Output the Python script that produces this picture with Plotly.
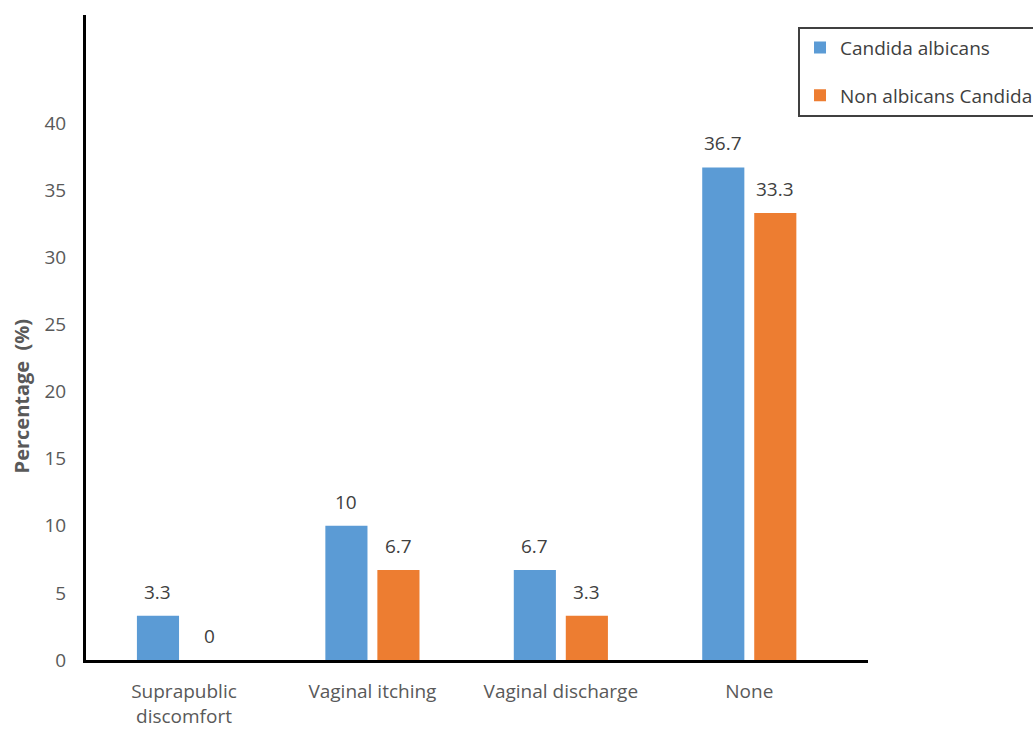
import plotly.graph_objects as go

# Symptom categories and percentage of isolates per species
categories = ["Suprapublic<br>discomfort", "Vaginal itching", "Vaginal discharge", "None"]
albicans = [3.3, 10, 6.7, 36.7]
non_albicans = [0, 6.7, 3.3, 33.3]
series_names = ["Candida albicans", "Non albicans Candida"]
y_ticks = [0, 5, 10, 15, 20, 25, 30, 35, 40]
y_title = "Percentage  (%)"

BLUE = "#5B9BD5"
ORANGE = "#ED7D31"
FONT = "Open Sans"
GREY = "#595959"
SIZE = 19

fig = go.Figure()
fig.add_trace(go.Bar(x=categories, y=albicans, name=series_names[0],
                     marker=dict(color=BLUE, line=dict(width=0)),
                     legendgroup="a"))
fig.add_trace(go.Bar(x=categories, y=non_albicans, name=series_names[1],
                     marker=dict(color=ORANGE, line=dict(width=0)),
                     legendgroup="b"))

# Value labels floating above each bar
annotations = []
for vals, shift in ((albicans, -26), (non_albicans, 26)):
    for cat, v in zip(categories, vals):
        annotations.append(dict(
            x=cat, y=v, xref="x", yref="y", text=f"{v:g}", showarrow=False,
            xshift=shift, yshift=24, yanchor="middle",
            font=dict(family=FONT, size=SIZE, color="#404040")))

# Vertical axis title, sitting slightly below the middle of the axis
annotations.append(dict(
    x=-0.082, y=0.41, xref="paper", yref="paper", text=f"<b>{y_title}</b>",
    textangle=-90, showarrow=False, xanchor="center", yanchor="middle",
    font=dict(family=FONT, size=20, color=GREY)))

fig.update_layout(
    width=1033, height=731,
    margin=dict(l=86, r=165, t=15, b=71, autoexpand=False),
    paper_bgcolor="white", plot_bgcolor="white",
    barmode="group", bargap=0.448, bargroupgap=0.19,
    font=dict(family=FONT, size=SIZE, color=GREY),
    showlegend=True,
    legend=dict(x=0.9105, y=0.982, xanchor="left", yanchor="top",
                bgcolor="white", bordercolor="#404040", borderwidth=2,
                traceorder="grouped", tracegroupgap=20,
                font=dict(family=FONT, size=SIZE, color="#404040")),
    annotations=annotations,
)
fig.update_xaxes(range=[-0.52, 3.63], showline=True, linecolor="black",
                 linewidth=3, ticks="", showgrid=False, zeroline=False,
                 automargin=False,
                 ticklabelstandoff=12, tickfont=dict(size=SIZE, color=GREY))
fig.update_yaxes(range=[0, 48.06], tickvals=y_ticks, showline=True,
                 linecolor="black", linewidth=3, ticks="", showgrid=False,
                 zeroline=False, ticklabelstandoff=13, automargin=False,
                 tickfont=dict(size=SIZE, color=GREY))

fig.write_html("out.html")
